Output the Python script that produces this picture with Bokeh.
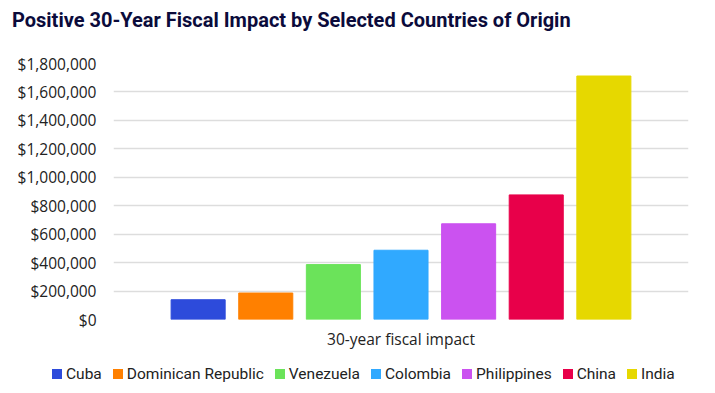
from bokeh.plotting import figure
from bokeh.models import Range1d, FactorRange, NumeralTickFormatter, ColumnDataSource, Div
from bokeh.transform import dodge
from bokeh.layouts import column
from bokeh.embed import file_html
from bokeh.resources import INLINE

title_text = "Positive 30-Year Fiscal Impact by Selected Countries of Origin"
category = ["30-year fiscal impact"]
countries = ["Cuba", "Dominican Republic", "Venezuela", "Colombia", "Philippines", "China", "India"]
values = [139000, 186000, 386000, 487000, 673000, 876000, 1712000]
colors = ["#2d4bdb", "#ff8000", "#6be35a", "#30a9ff", "#cb52f0", "#e8004a", "#e6d800"]
y_ticks = [0, 200000, 400000, 600000, 800000, 1000000, 1200000, 1400000, 1600000, 1800000]

W = 708

# title
header = Div(text=title_text, width=W, height=40, margin=0,
             styles={"font-family": "Roboto", "font-size": "20px", "font-weight": "bold",
                     "color": "#0b0b3b", "line-height": "40px", "padding-left": "12px",
                     "white-space": "nowrap"})

# main chart
p = figure(frame_width=575, frame_height=256, x_range=FactorRange(factors=category, range_padding=0),
           y_range=Range1d(0, 1800000), output_backend="svg", toolbar_location=None)
p.min_border_left = 113
p.min_border_right = 20
p.min_border_top = 23
p.min_border_bottom = 36
p.outline_line_color = None

step = 0.1176
width = 0.094
for i, (c, v, col) in enumerate(zip(countries, values, colors)):
    src = ColumnDataSource(dict(x=category, top=[v]))
    p.vbar(x=dodge("x", (i - 3) * step, range=p.x_range), top="top", width=width,
           source=src, fill_color=col, line_color=col)

p.xgrid.grid_line_color = None
p.ygrid.grid_line_color = "#dddddd"
p.ygrid.grid_line_width = 1.5
p.yaxis.ticker = y_ticks
p.yaxis.formatter = NumeralTickFormatter(format="$0,0")
for ax in (p.xaxis, p.yaxis):
    ax.axis_line_color = None
    ax.major_tick_line_color = None
    ax.minor_tick_line_color = None
    ax.major_label_text_font = "Open Sans"
    ax.major_label_text_font_size = "15.5px"
    ax.major_label_text_color = "#222222"
p.yaxis.major_label_standoff = 11
p.xaxis.major_label_standoff = 2

# legend strip
parts = []
for c, col in zip(countries, colors):
    parts.append(
        '<span style="display:inline-block;width:10px;height:10px;background:%s;margin-right:4px;"></span>'
        '<span style="margin-right:11px;">%s</span>' % (col, c))
legend_div = Div(text="".join(parts), width=W, height=38, margin=0,
                 styles={"font-family": "Roboto", "font-size": "15.5px", "color": "#222222",
                         "display": "flex", "align-items": "center", "height": "38px",
                         "padding-left": "52px", "white-space": "nowrap"})

layout = column(header, p, legend_div, spacing=0)
open("out.html", "w").write(file_html(layout, INLINE))
